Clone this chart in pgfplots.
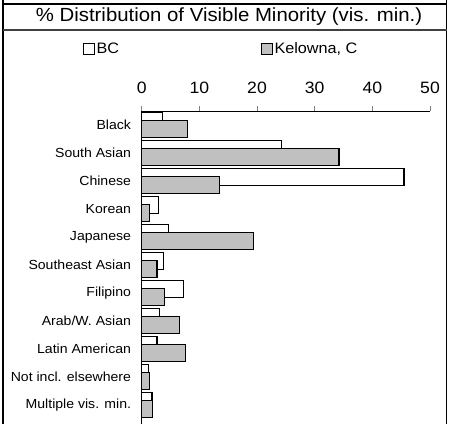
\documentclass[border=0pt]{standalone}
\usepackage{pgfplots}
\pgfplotsset{compat=1.18}
\usepackage{fontspec}
\setmainfont[FakeStretch=1.07]{Liberation Sans}
\definecolor{barGray}{RGB}{192,192,192}
\begin{document}
\begin{tikzpicture}[x=1bp,y=1bp]
\path[use as bounding box] (0,0) rectangle (449,424);
% frame
\draw[line width=1.5bp] (3,0) -- (3,424);
\draw[line width=1.5bp] (446.5,0) -- (446.5,424);
\draw[line width=2bp] (3,420) -- (446.5,420);
\draw[line width=2bp, black!75] (3,394.5) -- (446.5,394.5);
\node[font=\fontsize{19.1}{19.1}\selectfont, anchor=center, inner sep=0pt] at (229,407) {\% Distribution of Visible Minority (vis. min.)};
\begin{axis}[
  at={(141.7bp,5bp)}, anchor=south west,
  width=288.3bp, height=308bp, scale only axis,
  xmin=0, xmax=50, ymin=-0.5, ymax=10.5,
  y dir=reverse,
  axis x line=top, axis y line=left,
  axis line style={-, line width=0.9bp},
  xtick={0,10,20,30,40,50},
  xtick align=outside,
  major tick length=5bp,
  x tick style={line width=0.9bp},
  xticklabel style={font=\fontsize{16.5}{16.5}\selectfont, yshift=9bp},
  ytick={0,...,10},
  y tick style={draw=none},
  yticklabels={Black,South Asian,Chinese,Korean,Japanese,Southeast Asian,Filipino,Arab/W. Asian,Latin American,Not incl. elsewhere,Multiple vis. min.},
  yticklabel style={font=\fontsize{13.2}{13.2}\selectfont, anchor=east, inner sep=0pt, xshift=-8bp},
  /pgf/number format/assume math mode=true,
  clip=false,
  legend columns=2,
  legend style={at={(-0.2036,1.2023)}, anchor=west, draw=none, fill=none,
    inner sep=0pt, column sep=0pt,
    nodes={inner sep=0pt, anchor=west, font=\fontsize{15.2}{15.2}\selectfont}},
]
\addplot[xbar, bar width=17bp, bar shift=4.2bp, fill=white, draw=black, line width=1.2bp,
  legend image code/.code={\draw[draw=black, fill=white, line width=0.9bp] (0bp,-5.5bp) rectangle (11bp,5.5bp);}]
  coordinates {(3.57,0) (24.2,1) (45.5,2) (2.9,3) (4.6,4) (3.8,5) (7.2,6) (3.05,7) (2.65,8) (1.2,9) (1.8,10)};
\addlegendentry{\makebox[166bp][l]{\hspace{1.5bp}BC}}
\addplot[xbar, bar width=17bp, bar shift=-4.2bp, fill=barGray, draw=black, line width=1.2bp,
  legend image code/.code={\draw[draw=black, fill=barGray, line width=0.9bp] (0bp,-5.5bp) rectangle (11bp,5.5bp);}]
  coordinates {(8.0,0) (34.2,1) (13.5,2) (1.4,3) (19.4,4) (2.65,5) (4.0,6) (6.5,7) (7.6,8) (1.4,9) (1.9,10)};
\addlegendentry{\hspace{1.5bp}Kelowna, C}
\end{axis}
\draw[line width=0.9bp] (141.7,5) -- (141.7,0);
\end{tikzpicture}
\end{document}
